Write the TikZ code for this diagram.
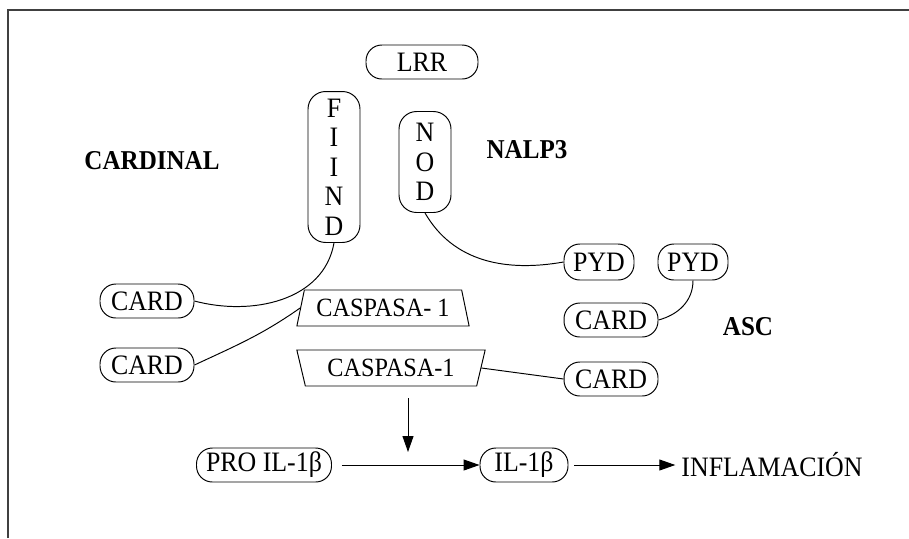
\documentclass[tikz,border=0pt]{standalone}
\usepackage{fontspec}
\setmainfont[FakeStretch=0.92]{Liberation Serif}
\usetikzlibrary{shapes.geometric,arrows.meta}

\begin{document}
\begin{tikzpicture}[x=0.02cm, y=-0.02cm,
            every node/.style={font=\fontsize{16}{18}\selectfont},
            dom/.style={rectangle, draw, line width=0.55pt, rounded corners=9pt, inner sep=1pt, minimum height=0.68cm, align=center},
            tall/.style={dom, minimum width=1.04cm, rounded corners=10pt, font=\fontsize{16}{16.8}\selectfont},
            casp/.style={trapezium, draw, line width=0.55pt, trapezium stretches=true, trapezium angle=73, minimum height=0.72cm, inner sep=1pt, font=\fontsize{15}{16}\selectfont},
            prot/.style={font=\fontsize{15.5}{17}\selectfont\bfseries},
            link/.style={line width=0.55pt},
            flow/.style={line width=0.55pt, -{Triangle[length=3.2mm, width=2.2mm]}},
        ]
            \useasboundingbox (0,0) rectangle (909,538);
            % frame
            \draw[black!75, line width=0.9pt] (8,538) -- (8,10) -- (909,10);

            % NALP3 / CARDINAL domains
            \node[dom, minimum width=2.24cm] (lrr) at (422,62) {LRR};
            \node[tall, minimum height=3.02cm] (fiind) at (334,167) {F\\I\\I\\N\\D};
            \node[tall, minimum height=2.02cm] (nod) at (425,162) {N\\O\\D};
            \node[prot] (cardinal) at (152,161) {CARDINAL};
            \node[prot] (nalp) at (527,150) {NALP3};

            % ASC
            \node[dom, minimum width=1.4cm, minimum height=0.72cm] (pydA) at (599,262) {PYD};
            \node[dom, minimum width=1.4cm, minimum height=0.72cm] (pydB) at (693,262) {PYD};
            \node[dom, minimum width=1.88cm] (cardC) at (611,320) {CARD};
            \node[prot] (asc) at (748,327) {ASC};

            % caspasa
            \node[dom, minimum width=1.88cm] (cardA) at (147,301) {CARD};
            \node[dom, minimum width=1.88cm] (cardB) at (147,365) {CARD};
            \node[casp, minimum width=3.46cm] (caspA) at (383,308) {CASPASA- 1};
            \node[casp, minimum width=3.78cm, shape border rotate=180] (caspB) at (391,368) {CASPASA-1};
            \node[dom, minimum width=1.88cm] (cardD) at (611,379) {CARD};

            % IL-1 beta
            \node[dom, minimum width=2.7cm] (pro) at (264,465) {PRO IL-1β};
            \node[dom, minimum width=1.76cm] (il) at (524,465) {IL-1β};
            \node (infl) at (772,465) {INFLAMACIÓN};
            \coordinate (drop) at (408,398);
            \coordinate (hit) at (408,452);

            % links
            \draw[link] (fiind.south) to[out=-100, in=-15] (cardA.east);
            \draw[link] (cardB.east) to[out=25, in=-145] (caspA.west);
            \draw[link] (nod.south) to[out=-60, in=190] (pydA.west);
            \draw[link] (pydB.south) to[out=-90, in=15] (cardC.east);
            \draw[link] (caspB.east) -- (cardD.west);

            % flow
            \draw[flow] (drop) -- (hit);
            \draw[flow, shorten <=0.2cm] (pro) -- (il);
            \draw[flow, shorten <=0.12cm] (il) -- (infl);
        \end{tikzpicture}
\end{document}
